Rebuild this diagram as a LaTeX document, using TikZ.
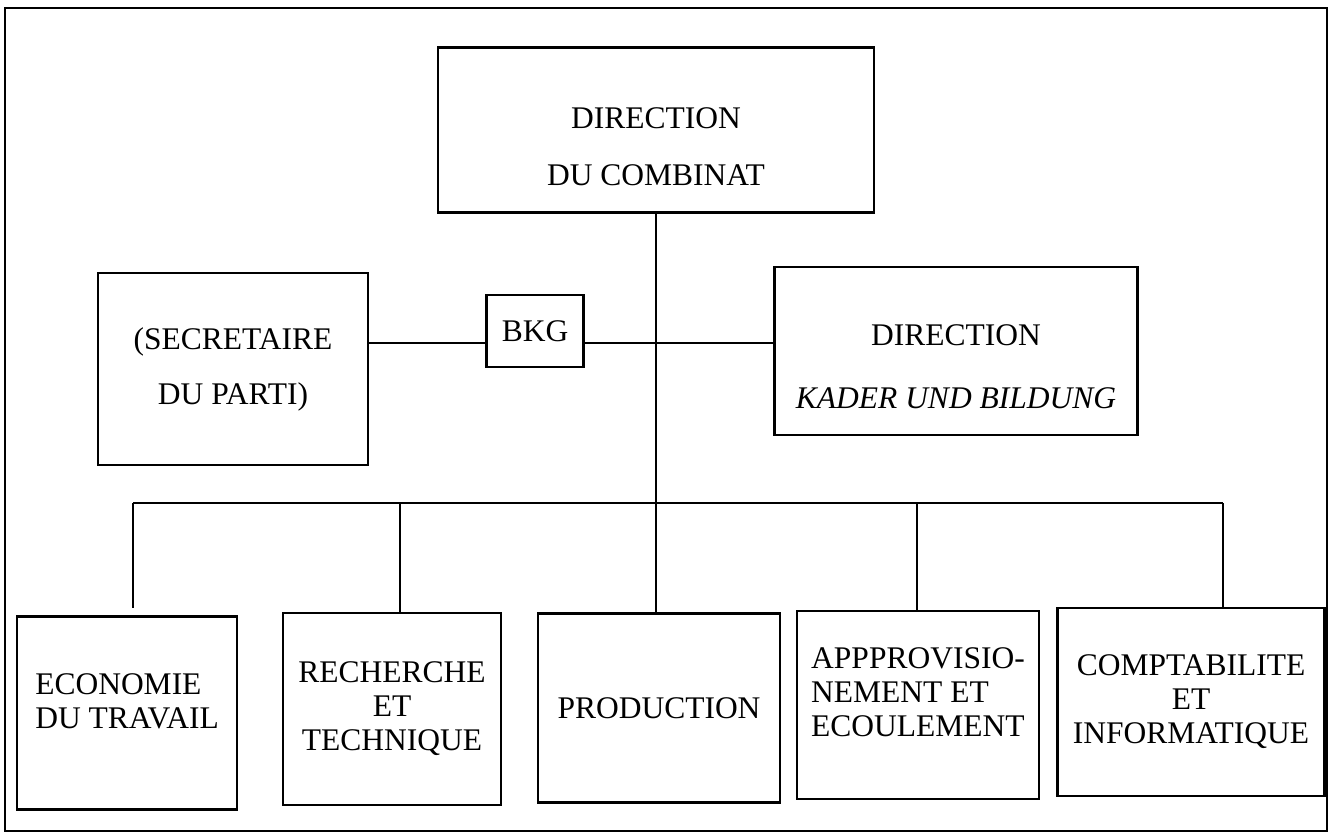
\documentclass[tikz,border=0pt]{standalone}
\usepackage{fontspec}
\setmainfont{Liberation Serif}
\newcommand\boxfont{\fontsize{31.5}{34}\selectfont}

\begin{document}
\begin{tikzpicture}[x=1pt,y=-1pt,
  box/.style={draw,line width=2.2pt,inner sep=0pt,align=center,font=\boxfont},
  link/.style={line width=2pt}]
  \useasboundingbox (0,0) rectangle (1330,834);
  \draw[line width=2.4pt] (5,8) rectangle (1327,831);
  \node[box,minimum width=436pt,minimum height=165pt] (top) at (656,130) {\rule{0pt}{55pt}DIRECTION\\[23pt]DU COMBINAT};
  \node[box,minimum width=270pt,minimum height=192pt] (sec) at (233,369) {(SECRETAIRE\\[21pt]DU PARTI)};
  \node[box,minimum width=97pt,minimum height=72pt] (bkg) at (535,331) {BKG};
  \node[box,minimum width=363pt,minimum height=168pt] (kad) at (956,351) {\rule{0pt}{53pt}DIRECTION\\[29pt]\textit{KADER UND BILDUNG}};
  \node[box,align=left,minimum width=220pt,minimum height=193pt] (eco) at (127,713) {ECONOMIE\\DU TRAVAIL\rule[-24pt]{0pt}{24pt}};
  \node[box,minimum width=218pt,minimum height=192pt] (rec) at (392,709) {RECHERCHE\\ET\\TECHNIQUE};
  \node[box,minimum width=242pt,minimum height=189pt] (prod) at (659,708) {PRODUCTION};
  \node[box,align=left,minimum width=242pt,minimum height=188pt] (app) at (918,705) {APPPROVISIO-\\NEMENT ET\\ECOULEMENT\rule[-26pt]{0pt}{26pt}};
  \node[box,minimum width=267pt,minimum height=188pt] (comp) at (1191,702) {COMPTABILITE\\ET\\INFORMATIQUE};
  \coordinate (hl) at (656,343);
  \coordinate (b1) at (133,503);
  \coordinate (b2) at (400,503);
  \coordinate (b4) at (917,503);
  \coordinate (b5) at (1223,503);
  \coordinate (e1) at (133,608);
  \draw[link] (top.south) -- (top.south |- prod.north);
  \draw[link] (sec.east |- hl) -- (bkg.west |- hl);
  \draw[link] (bkg.east |- hl) -- (kad.west |- hl);
  \draw[link] (b1) -- (b5);
  \draw[link] (b1) -- (e1);
  \draw[link] (b2) -- (b2 |- rec.north);
  \draw[link] (b4) -- (b4 |- app.north);
  \draw[link] (b5) -- (b5 |- comp.north);
\end{tikzpicture}
\end{document}
